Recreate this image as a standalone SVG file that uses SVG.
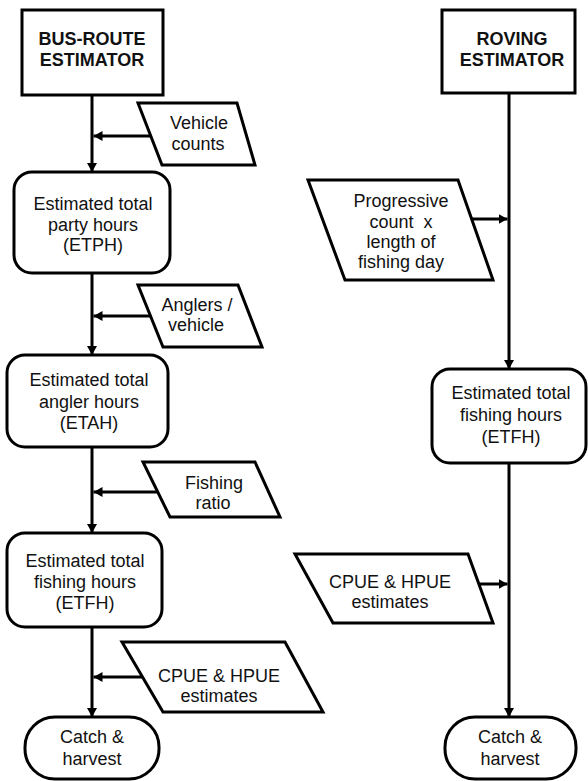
<svg xmlns="http://www.w3.org/2000/svg" width="588" height="781" viewBox="0 0 588 781">
<defs>
<style>
.box{fill:#fff;stroke:#000;stroke-width:3}
.t{font-family:"Liberation Sans",Arial,sans-serif;font-size:18px;fill:#111;text-anchor:middle}
.b{font-weight:bold}
.c{fill:none;stroke:#000;stroke-width:3}
</style>
<marker id="ah" markerUnits="userSpaceOnUse" markerWidth="9" markerHeight="10" refX="9" refY="5" orient="auto">
<path d="M0,0 L9,5 L0,10 z" fill="#000"/>
</marker>
</defs>
<rect width="588" height="781" fill="#fff"/>
<g id="connectors">
<path class="c" d="M92,95 V172" marker-end="url(#ah)"/>
<path class="c" d="M150,136 H93.5" marker-end="url(#ah)"/>
<path class="c" d="M92,273 V355" marker-end="url(#ah)"/>
<path class="c" d="M150,316 H93.5" marker-end="url(#ah)"/>
<path class="c" d="M92,447 V533" marker-end="url(#ah)"/>
<path class="c" d="M157,492 H93.5" marker-end="url(#ah)"/>
<path class="c" d="M92,627 V717" marker-end="url(#ah)"/>
<path class="c" d="M142,677 H93.5" marker-end="url(#ah)"/>
<path class="c" d="M509,93 V369" marker-end="url(#ah)"/>
<path class="c" d="M472,219 H507.5" marker-end="url(#ah)"/>
<path class="c" d="M509,463 V717" marker-end="url(#ah)"/>
<path class="c" d="M478,584 H507.5" marker-end="url(#ah)"/>
</g>
<g id="bus-route">
<rect class="box" x="22" y="10" width="141" height="85"/>
<text class="t b" x="92" y="45">BUS-ROUTE</text>
<text class="t b" x="92" y="66">ESTIMATOR</text>
</g>
<g id="vehicle-counts">
<polygon class="box" points="138,103 237,103 255,165 162,165"/>
<text class="t" x="199" y="129">Vehicle</text>
<text class="t" x="198" y="150">counts</text>
</g>
<g id="etph">
<rect class="box" x="14" y="172" width="156" height="101" rx="18"/>
<text class="t" x="93" y="210">Estimated total</text>
<text class="t" x="93" y="231">party hours</text>
<text class="t" x="93" y="251">(ETPH)</text>
</g>
<g id="anglers-vehicle">
<polygon class="box" points="138,285 238,285 262,347 163,347"/>
<text class="t" x="197" y="311">Anglers /</text>
<text class="t" x="196" y="331">vehicle</text>
</g>
<g id="etah">
<rect class="box" x="7" y="355" width="161" height="92" rx="18"/>
<text class="t" x="89" y="386">Estimated total</text>
<text class="t" x="89" y="408">angler hours</text>
<text class="t" x="89" y="429">(ETAH)</text>
</g>
<g id="fishing-ratio">
<polygon class="box" points="143,462 255,462 280,517 170,517"/>
<text class="t" x="214" y="489">Fishing</text>
<text class="t" x="213" y="509">ratio</text>
</g>
<g id="etfh-left">
<rect class="box" x="7" y="533" width="155" height="94" rx="18"/>
<text class="t" x="85" y="567">Estimated total</text>
<text class="t" x="85" y="588">fishing hours</text>
<text class="t" x="85" y="609">(ETFH)</text>
</g>
<g id="cpue-left">
<polygon class="box" points="122,642 285,642 323,712 163,712"/>
<text class="t" x="219" y="682">CPUE &amp; HPUE</text>
<text class="t" x="219" y="702">estimates</text>
</g>
<g id="catch-left">
<rect class="box" x="25" y="717" width="134" height="62" rx="30"/>
<text class="t" x="92" y="743">Catch &amp;</text>
<text class="t" x="92" y="765">harvest</text>
</g>
<g id="roving">
<rect class="box" x="442" y="10" width="133" height="83"/>
<text class="t b" x="512" y="45">ROVING</text>
<text class="t b" x="512" y="66">ESTIMATOR</text>
</g>
<g id="progressive">
<polygon class="box" points="308,180 458,180 493,280 345,280"/>
<text class="t" x="401" y="207">Progressive</text>
<text class="t" x="401" y="228" xml:space="preserve">count  x</text>
<text class="t" x="401" y="248">length of</text>
<text class="t" x="401" y="268">fishing day</text>
</g>
<g id="etfh-right">
<rect class="box" x="432" y="369" width="154" height="94" rx="18"/>
<text class="t" x="511" y="399">Estimated total</text>
<text class="t" x="511" y="421">fishing hours</text>
<text class="t" x="511" y="443">(ETFH)</text>
</g>
<g id="cpue-right">
<polygon class="box" points="295,554 468,554 493,623 333,623"/>
<text class="t" x="390" y="588">CPUE &amp; HPUE</text>
<text class="t" x="390" y="608">estimates</text>
</g>
<g id="catch-right">
<rect class="box" x="445" y="717" width="131" height="62" rx="30"/>
<text class="t" x="510" y="743">Catch &amp;</text>
<text class="t" x="510" y="765">harvest</text>
</g>
</svg>
